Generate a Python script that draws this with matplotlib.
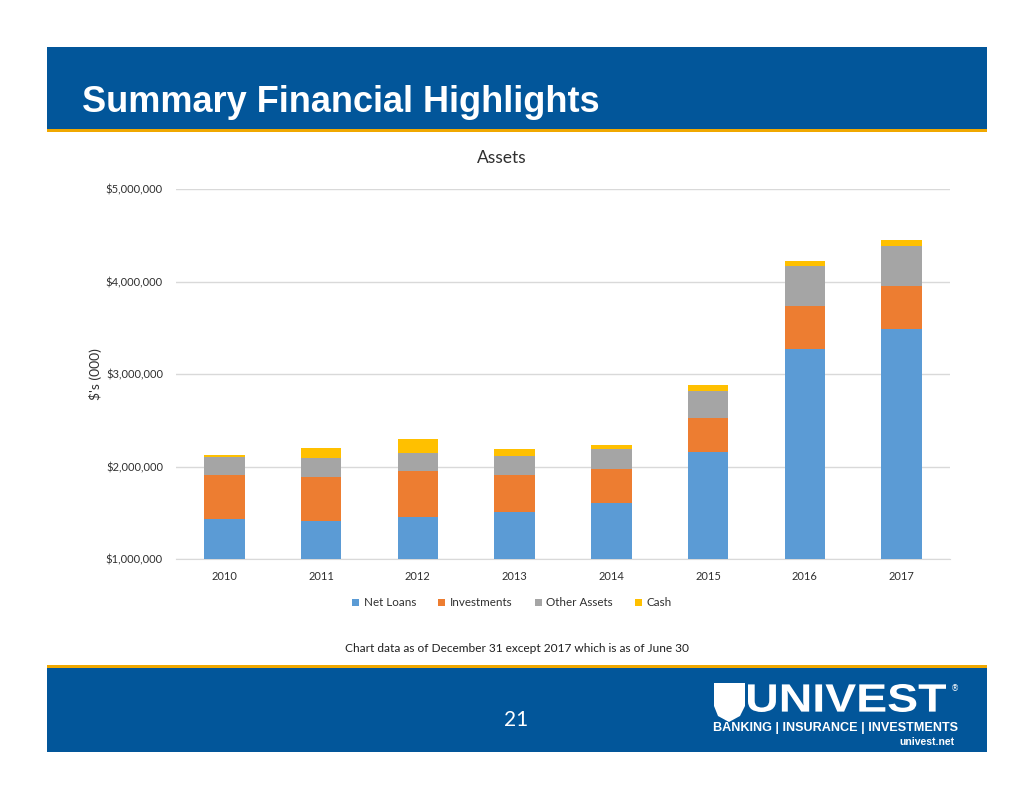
#!/usr/bin/env python3

import numpy as np
import matplotlib
matplotlib.use("Agg")
import matplotlib.pyplot as plt
from matplotlib.patches import Rectangle, Polygon, PathPatch
from matplotlib.textpath import TextPath
from matplotlib.font_manager import FontProperties
from matplotlib.transforms import Affine2D
from matplotlib.ticker import FuncFormatter

""" Univest slide 21 : assets stacked bars """

years = ['2010', '2011', '2012', '2013', '2014', '2015', '2016', '2017']
series_names = ['Net Loans', 'Investments', 'Other Assets', 'Cash']
net_loans = [1432000, 1411000, 1454000, 1511000, 1602000, 2160000, 3267000, 3489000]
investments = [476000, 472000, 497000, 400000, 368000, 364000, 471000, 467000]
other_assets = [191000, 209000, 198000, 206000, 219000, 292000, 433000, 431000]
cash = [29000, 108000, 148000, 69000, 43000, 65000, 54000, 62000]
y_ticks = [1000000, 2000000, 3000000, 4000000, 5000000]

colors = ['#5B9BD5', '#ED7D31', '#A5A5A5', '#FFC000']
BLUE = '#02569A'
GOLD = '#F0A800'
TXT = '#303030'
FONT = 'Lato'

W, H = 1034, 799
fig = plt.figure(figsize=(W / 100, H / 100), dpi=100)
fig.patch.set_facecolor('white')

def px_rect(x0, y0, x1, y1, color) :
	# rectangle in pixel coords (origin top-left)
	fig.patches.append(Rectangle((x0 / W, 1 - y1 / H), (x1 - x0) / W, (y1 - y0) / H,
		transform=fig.transFigure, facecolor=color, edgecolor='none', zorder=0))

def px_text_box(s, x0, y0, x1, y1, **kw) :
	# text path stretched to fit a pixel box
	tp = TextPath((0, 0), s, size=10, prop=FontProperties(**kw))
	bb = tp.get_extents()
	sx = (x1 - x0) / bb.width / W
	sy = (y1 - y0) / bb.height / H
	tr = Affine2D().translate(-bb.x0, -bb.y0).scale(sx, sy).translate(x0 / W, 1 - y1 / H)
	fig.patches.append(PathPatch(tr.transform_path(tp), transform=fig.transFigure,
		facecolor='white', edgecolor='none'))

# header
px_rect(47, 47, 987, 129, BLUE)
px_rect(47, 129, 987, 132, GOLD)
fig.text(82 / W, 1 - 112 / H, 'Summary Financial Highlights', color='white',
	fontsize=26, fontweight='bold', family='Liberation Sans', va='baseline', ha='left')

# footer
px_rect(47, 665, 987, 668, GOLD)
px_rect(47, 668, 987, 752, BLUE)
fig.text(516 / W, 1 - 720 / H, '21', color='white', fontsize=15, family=FONT,
	ha='center', va='center')

# logo
shield = [(714, 683), (745, 683), (745, 706), (740, 716), (729, 722), (718, 716), (714, 706)]
fig.patches.append(Polygon([(x / W, 1 - y / H) for x, y in shield], closed=True,
	transform=fig.transFigure, facecolor='white', edgecolor='none'))
px_text_box('UNIVEST', 748, 684, 946, 712, family='Liberation Sans', weight='bold')
fig.text(951 / W, 1 - 689 / H, '®', color='white', fontsize=6, ha='left', va='center')
fig.text(713 / W, 1 - 728 / H, 'BANKING | INSURANCE | INVESTMENTS', color='white',
	fontsize=9.1, fontweight='bold', family='Liberation Sans', ha='left', va='center')
fig.text(955 / W, 1 - 742 / H, 'univest.net', color='white', fontsize=7.5,
	fontweight='bold', family='Liberation Sans', ha='right', va='center')

# chart
ax = fig.add_axes([176 / W, 1 - 559 / H, (950 - 176) / W, (559 - 189) / H])
x = np.arange(len(years))
bottom = np.zeros(len(years))
for name, vals, c in zip(series_names, [net_loans, investments, other_assets, cash], colors) :
	ax.bar(x, vals, 0.42, bottom=bottom, color=c, label=name, zorder=3)
	bottom += np.array(vals)

ax.set_ylim(1000000, 5000000)
ax.set_xlim(-0.5, len(years) - 0.5)
ax.set_yticks(y_ticks)
ax.yaxis.set_major_formatter(FuncFormatter(lambda v, p : f'${v:,.0f}'))
ax.set_xticks(x)
ax.set_xticklabels(years)
ax.grid(axis='y', color='#D9D9D9', linewidth=1, zorder=0)
for s in ['top', 'right', 'left'] :
	ax.spines[s].set_visible(False)
ax.spines['bottom'].set_color('#D9D9D9')
ax.tick_params(length=0, labelsize=8, labelcolor=TXT)
ax.tick_params(axis='y', pad=9.4)
ax.tick_params(axis='x', pad=9)
for lab in ax.get_xticklabels() + ax.get_yticklabels() :
	lab.set_family(FONT)
fig.text(96 / W, 1 - 374 / H, "$'s (000)", fontsize=10, color=TXT, family=FONT,
	rotation=90, ha='center', va='center')
fig.text(502 / W, 1 - 158 / H, 'Assets', fontsize=12.5, color=TXT, family=FONT,
	ha='center', va='center')

ax.legend(loc='center', bbox_to_anchor=(512 / W, 1 - 603 / H), bbox_transform=fig.transFigure,
	ncol=4, frameon=False, handlelength=0.6, handleheight=0.6,
	columnspacing=1.9, handletextpad=0.4, labelcolor=TXT, prop={'family': FONT, 'size': 8.4})

fig.text(517 / W, 1 - 649 / H, 'Chart data as of December 31 except 2017 which is as of June 30',
	fontsize=8.6, color='#202020', family=FONT, ha='center', va='center')

fig.savefig('out.png', dpi=100)
